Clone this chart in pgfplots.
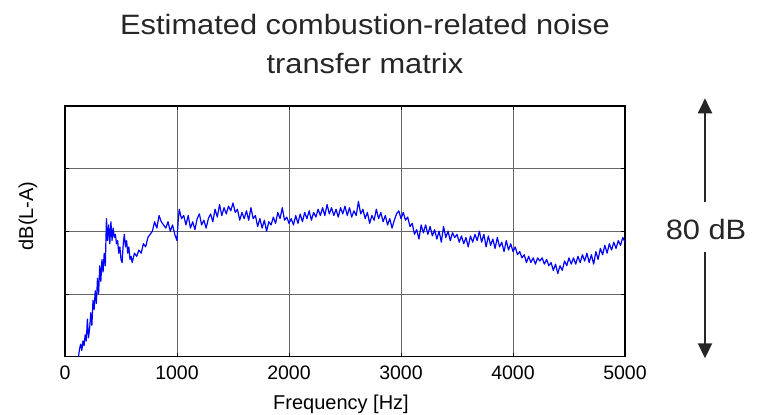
\documentclass[border=0pt]{standalone}
\usepackage{fontspec}
\setmainfont{Liberation Sans}
\newfontfamily\widefont[FakeStretch=1.1]{Liberation Sans}
\usepackage{pgfplots}
\pgfplotsset{compat=1.18}
\usetikzlibrary{arrows.meta}
\definecolor{inkgray}{RGB}{38,38,38}

\begin{document}
\begin{tikzpicture}[x=1pt,y=1pt]
\useasboundingbox (0,0) rectangle (758,415);

\begin{axis}[
  at={(65pt,58.3pt)}, anchor=south west,
  scale only axis, width=560pt, height=251pt,
  xmin=0, xmax=5000, ymin=0, ymax=80,
  xtick={0,1000,2000,3000,4000,5000},
  xticklabels={0,1000,2000,3000,4000,5000},
  ytick={0,20,40,60,80}, yticklabels={},
  xticklabel style={font=\fontsize{19.5}{19.5}\selectfont, text=black, anchor=base, yshift=-23pt},
  scaled x ticks=false,
  grid=major,
  major grid style={black!60, line width=0.6pt},
  axis line style={black, line width=1.6pt},
  tick style={black, line width=0.9pt},
  major tick length=4pt,
  tick align=inside,
  clip=true,
]
\addplot[color={rgb,255:red,0;green,0;blue,255}, line width=1.2pt, line join=round] table {
x y
120 0
130 2.5
140 4
150 2
160 5
170 3.5
180 7
190 5
200 12
210 6
220 9
230 14
240 10
250 18
260 15
270 21
280 17
290 25
300 20
310 29
320 24
330 31
340 27
350 33
360 29
370 44
380 37
390 42
400 36
410 43
420 37
430 41
440 38
450 39
460 36
470 37
480 33
490 35
500 31
510 30
520 36
530 39
540 35
550 37
560 33
570 35
580 31
590 32
600 30
620 33
640 32
660 34
680 33
700 36
720 35
740 38
760 39
780 40
800 43
820 41
840 45
860 43
880 42
900 41
920 43
940 40
960 42
980 39
1000 37
1010 43
1020 47
1040 44
1060 45
1080 42
1100 45
1120 41
1140 43
1160 40.5
1180 44
1200 45.5
1220 42
1240 43.5
1260 41
1280 44
1300 45.5
1320 43
1340 47
1360 44.5
1380 48.5
1400 45
1420 47.5
1440 45.5
1460 48
1480 46.5
1500 49
1520 46
1540 47
1560 43.5
1580 46
1600 44
1620 46.5
1640 43.5
1660 47.5
1680 44
1700 45
1720 41.5
1740 44
1760 41
1780 43.5
1800 40
1820 43
1840 42
1860 44.5
1880 42.5
1900 46
1920 44
1940 47.5
1960 43.5
1980 44.5
2000 42.5
2020 44
2040 42
2060 45
2080 42.5
2100 45.5
2120 43
2140 46
2160 44
2180 46.5
2200 43.5
2220 46
2240 44.5
2260 47
2280 45
2300 47.5
2320 45
2340 48.5
2360 45.5
2380 47.5
2400 45
2420 47
2440 44.5
2460 47.5
2480 45.5
2500 48
2520 45
2540 47.5
2560 44.5
2580 46.5
2600 45
2620 49.5
2640 45.5
2660 47
2680 44
2700 46
2720 42.5
2740 45
2760 43.5
2780 47
2800 44
2820 46
2840 43
2860 45
2880 42
2900 44
2920 41
2940 43.5
2960 45.5
2980 46.5
3000 44
3020 46
3040 43.5
3060 44.5
3080 41.5
3100 42.5
3120 39
3140 40.5
3160 37.5
3180 42
3200 39.5
3220 42
3240 39
3260 41.5
3280 38.5
3300 40.5
3320 37.5
3340 40
3360 36.5
3380 41.5
3400 38
3420 40
3440 37
3460 39.5
3480 38
3500 39
3520 36.5
3540 38.5
3560 36
3580 38
3600 35
3620 38.5
3640 36.5
3660 39
3680 37
3700 40
3720 36.5
3740 39
3760 35
3780 38.5
3800 35.5
3820 37.5
3840 34.5
3860 38
3880 35
3900 36.5
3920 33.5
3940 37
3960 34
3980 36
4000 33.5
4020 35
4040 32.5
4060 33.5
4080 31.5
4100 32.5
4120 30
4140 32
4160 30
4180 31.5
4200 29.5
4220 31.5
4240 30.5
4260 31.5
4280 29.5
4300 31
4320 29
4340 30
4360 27.5
4380 29.5
4400 26.5
4420 29
4440 27.5
4460 30.5
4480 29
4500 31.5
4520 29.5
4540 31.5
4560 29.5
4580 32
4600 30
4620 32.5
4640 30.5
4660 33
4680 30
4700 32.5
4720 29.5
4740 33.5
4760 31
4780 34.5
4800 32.5
4820 35.5
4840 33
4860 36
4880 34
4900 36.5
4920 34.5
4940 37
4960 35.5
4980 38
5000 36.5
};
\end{axis}

% axis titles
\node[anchor=base, font=\fontsize{20}{20}\selectfont, text=black] at (341,5) {Frequency [Hz]};
\node[anchor=base, rotate=90, font=\fontsize{20}{20}\selectfont, text=black] at (33,199) {dB(L-A)};

% two-line heading
\node[anchor=base, font=\widefont\fontsize{28}{28}\selectfont, text=inkgray] at (365,380) {Estimated combustion-related noise};
\node[anchor=base, font=\widefont\fontsize{28}{28}\selectfont, text=inkgray] at (365,341.7) {transfer matrix};

% span indicator for the vertical range
\draw[inkgray, line width=2pt, -{Triangle[width=14pt,length=15pt]}] (705,213.3) -- (705,316.7);
\draw[inkgray, line width=2pt, -{Triangle[width=14pt,length=15pt]}] (705,163.3) -- (705,56.7);
\node[anchor=base, font=\widefont\fontsize{28}{28}\selectfont, text=inkgray] at (706,175) {80 dB};
\end{tikzpicture}
\end{document}
